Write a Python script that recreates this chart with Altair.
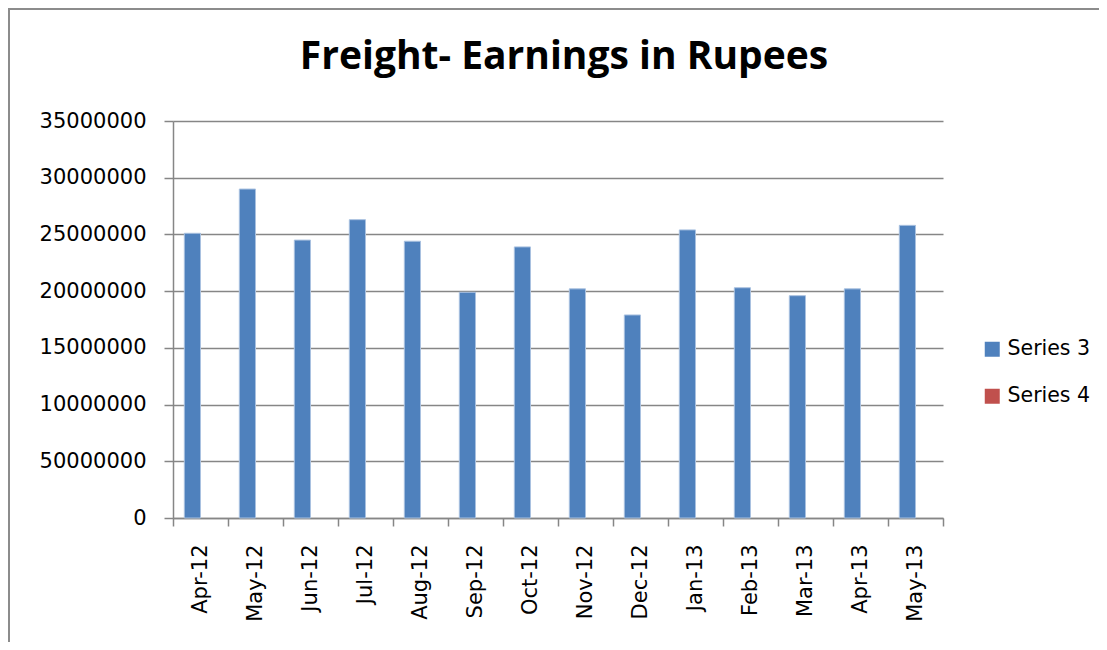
import altair as alt
import pandas as pd

months = ["Apr-12", "May-12", "Jun-12", "Jul-12", "Aug-12", "Sep-12", "Oct-12",
          "Nov-12", "Dec-12", "Jan-13", "Feb-13", "Mar-13", "Apr-13", "May-13"]
series3 = [25100000, 29000000, 24500000, 26300000, 24400000, 19900000, 23900000,
           20200000, 17900000, 25400000, 20300000, 19600000, 20200000, 25800000]
series_names = ["Series 3", "Series 4"]
series_colors = ["#4F81BD", "#C0504D"]
y_tick_values = [0, 5000000, 10000000, 15000000, 20000000, 25000000, 30000000, 35000000]
y_tick_labels = ["0", "50000000", "10000000", "15000000", "20000000", "25000000", "30000000", "35000000"]

df = pd.DataFrame({"month": months, "value": series3, "series": "Series 3"})

label_expr = "".join(
    f"datum.value == {v} ? '{l}' : " for v, l in zip(y_tick_values, y_tick_labels)
) + "datum.label"

FONT = "DejaVu Sans"
GRID = "#868686"

bars = alt.Chart(df).mark_bar(stroke="#A9C1E0", strokeWidth=1).encode(
    x=alt.X("month:N", sort=months,
            scale=alt.Scale(paddingInner=0, paddingOuter=0),
            axis=alt.Axis(title=None, labelAngle=-90, tickBand="extent",
                          tickSize=8, tickColor=GRID, tickWidth=1.5,
                          domainColor=GRID, domainWidth=1.5,
                          labelPadding=18, labelFont=FONT, labelFontSize=21,
                          labelColor="black", grid=False)),
    xOffset=alt.XOffset("series:N",
                        scale=alt.Scale(domain=series_names, paddingOuter=0.7, paddingInner=0)),
    y=alt.Y("value:Q",
            scale=alt.Scale(domain=[0, 35000000], nice=False),
            axis=alt.Axis(title=None, values=y_tick_values, labelExpr=label_expr,
                          tickSize=9, tickColor=GRID, tickWidth=1.5,
                          domainColor=GRID, domainWidth=1.5,
                          gridColor=GRID, gridWidth=1.5,
                          labelPadding=18, labelFont=FONT, labelFontSize=21,
                          labelColor="black")),
    color=alt.Color("series:N",
                    scale=alt.Scale(domain=series_names, range=series_colors),
                    legend=alt.Legend(title=None, orient="none", legendX=809, legendY=218,
                                      symbolType="square", symbolSize=225,
                                      symbolStrokeWidth=0, labelFont=FONT,
                                      labelFontSize=20.5, labelColor="black",
                                      rowPadding=26, padding=0, labelOffset=5)),
)

frame = alt.Chart(pd.DataFrame({"k": [0]})).mark_rect(
    fill=None, stroke="#8C8C8C", strokeWidth=2
).encode(
    x=alt.value(-164), x2=alt.value(1000), y=alt.value(-112), y2=alt.value(600)
)

chart = alt.layer(frame, bars).properties(
    width=770, height=397,
    autosize=alt.AutoSizeParams(type="none"),
    padding={"left": 165, "top": 113, "right": 156, "bottom": 124},
    title=alt.TitleParams("Freight- Earnings in Rupees", font="Open Sans",
                          fontSize=39, fontWeight="bold", color="black",
                          anchor="middle", frame="group", baseline="alphabetic",
                          offset=-100, dx=6),
).configure_view(stroke=None)

chart.save("out.html", embed_options={"renderer": "svg", "actions": False})
